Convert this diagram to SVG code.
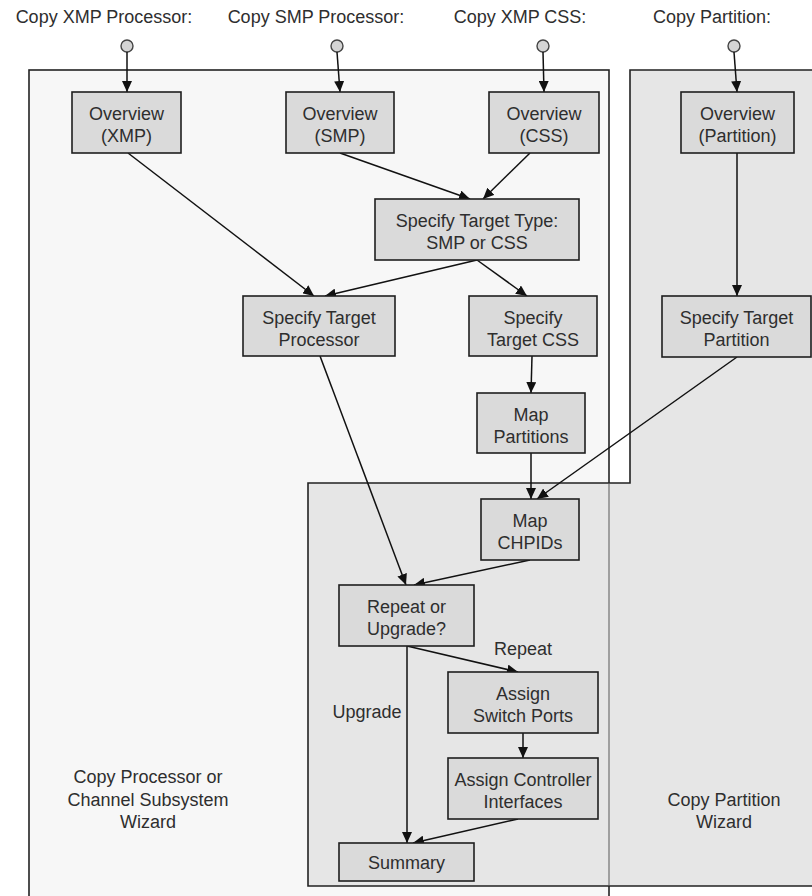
<svg xmlns="http://www.w3.org/2000/svg" width="812" height="896" viewBox="0 0 812 896">
<style>
text { font-family: "Liberation Sans", Arial, sans-serif; font-size: 18px; fill: #2e2e2e; text-anchor: middle; }
.node rect { fill: #dadada; stroke: #1e1e1e; stroke-width: 1.6; }
.start { fill: #d4d4d4; stroke: #444; stroke-width: 1.4; }
.edge { fill: none; stroke: #111; stroke-width: 1.5; marker-end: url(#arrow); }
.plain { fill: none; stroke: #111; stroke-width: 1.5; }
</style>
<defs>
<marker id="arrow" markerUnits="userSpaceOnUse" markerWidth="11" markerHeight="10" refX="11" refY="5" orient="auto">
<path d="M0,0 L11,5 L0,10 Z" fill="#111"/>
</marker>
</defs>
<rect width="812" height="896" fill="#ffffff"/>
<g id="regions">
<rect x="29" y="70" width="580" height="840" fill="#f7f7f7" stroke="#222" stroke-width="1.6"/>
<path d="M630,70 H814 V886 H308 V483 H630 Z" fill="#e6e6e6" stroke="#222" stroke-width="1.6"/>
<line x1="609" y1="484" x2="609" y2="885" stroke="#808080" stroke-width="1.4"/>
<text x="148" y="783">Copy Processor or</text>
<text x="148" y="806">Channel Subsystem</text>
<text x="148" y="828">Wizard</text>
<text x="724" y="806">Copy Partition</text>
<text x="724" y="828">Wizard</text>
</g>
<g id="start-labels">
<text x="104" y="23">Copy XMP Processor:</text>
<text x="316" y="23">Copy SMP Processor:</text>
<text x="520" y="23">Copy XMP CSS:</text>
<text x="712" y="23">Copy Partition:</text>
</g>
<g id="starts">
<circle id="start-xmp" class="start" cx="127" cy="46" r="6"/>
<circle id="start-smp" class="start" cx="337" cy="46" r="6"/>
<circle id="start-css" class="start" cx="543" cy="46" r="6"/>
<circle id="start-partition" class="start" cx="734" cy="46" r="6"/>
</g>
<g id="connectors">
<line class="edge" x1="127" y1="52" x2="127" y2="92"/>
<line class="edge" x1="337" y1="52" x2="340" y2="92"/>
<line class="edge" x1="543" y1="52" x2="544" y2="92"/>
<line class="edge" x1="734" y1="52" x2="737" y2="92"/>
<line class="edge" x1="128" y1="153" x2="314" y2="296"/>
<line class="edge" x1="340" y1="153" x2="470" y2="199"/>
<line class="edge" x1="530" y1="153" x2="483" y2="199"/>
<line class="edge" x1="477" y1="260" x2="325" y2="296"/>
<line class="edge" x1="477" y1="260" x2="527" y2="296"/>
<line class="edge" x1="532" y1="356" x2="531" y2="393"/>
<line class="edge" x1="531" y1="453" x2="531" y2="499"/>
<line class="edge" x1="737" y1="357" x2="537" y2="499"/>
<line class="edge" x1="737" y1="153" x2="737" y2="296"/>
<line class="edge" x1="320" y1="356" x2="406" y2="585"/>
<line class="edge" x1="530" y1="560" x2="414" y2="585"/>
<line class="edge" x1="407" y1="646" x2="518" y2="672"/>
<line class="edge" x1="407" y1="646" x2="407" y2="843"/>
<line class="edge" x1="523" y1="733" x2="523" y2="758"/>
<line class="edge" x1="518" y1="819" x2="413" y2="843"/>
<text x="523" y="655">Repeat</text>
<text x="367" y="718">Upgrade</text>
</g>
<g id="overview-xmp" class="node"><rect x="72" y="92" width="109" height="61"/><text x="126.5" y="120">Overview</text><text x="126.5" y="142">(XMP)</text></g>
<g id="overview-smp" class="node"><rect x="286" y="92" width="108" height="61"/><text x="340" y="120">Overview</text><text x="340" y="142">(SMP)</text></g>
<g id="overview-css" class="node"><rect x="489" y="92" width="110" height="61"/><text x="544" y="120">Overview</text><text x="544" y="142">(CSS)</text></g>
<g id="overview-partition" class="node"><rect x="681" y="92" width="113" height="61"/><text x="737.5" y="120">Overview</text><text x="737.5" y="142">(Partition)</text></g>
<g id="specify-target-type" class="node"><rect x="375" y="199" width="204" height="61"/><text x="477" y="227">Specify Target Type:</text><text x="477" y="249">SMP or CSS</text></g>
<g id="specify-target-processor" class="node"><rect x="243" y="296" width="152" height="60"/><text x="319" y="324">Specify Target</text><text x="319" y="346">Processor</text></g>
<g id="specify-target-css" class="node"><rect x="469" y="296" width="128" height="60"/><text x="533" y="324">Specify</text><text x="533" y="346">Target CSS</text></g>
<g id="specify-target-partition" class="node"><rect x="662" y="296" width="149" height="61"/><text x="736.5" y="324">Specify Target</text><text x="736.5" y="346">Partition</text></g>
<g id="map-partitions" class="node"><rect x="477" y="393" width="108" height="60"/><text x="531" y="421">Map</text><text x="531" y="443">Partitions</text></g>
<g id="map-chpids" class="node"><rect x="481" y="499" width="98" height="61"/><text x="530" y="527">Map</text><text x="530" y="549">CHPIDs</text></g>
<g id="repeat-or-upgrade" class="node"><rect x="339" y="585" width="135" height="61"/><text x="406.5" y="613">Repeat or</text><text x="406.5" y="635">Upgrade?</text></g>
<g id="assign-switch-ports" class="node"><rect x="448" y="672" width="150" height="61"/><text x="523" y="700">Assign</text><text x="523" y="722">Switch Ports</text></g>
<g id="assign-controller-interfaces" class="node"><rect x="448" y="758" width="150" height="61"/><text x="523" y="786">Assign Controller</text><text x="523" y="808">Interfaces</text></g>
<g id="summary" class="node"><rect x="339" y="843" width="135" height="38"/><text x="406.5" y="869">Summary</text></g>
</svg>
